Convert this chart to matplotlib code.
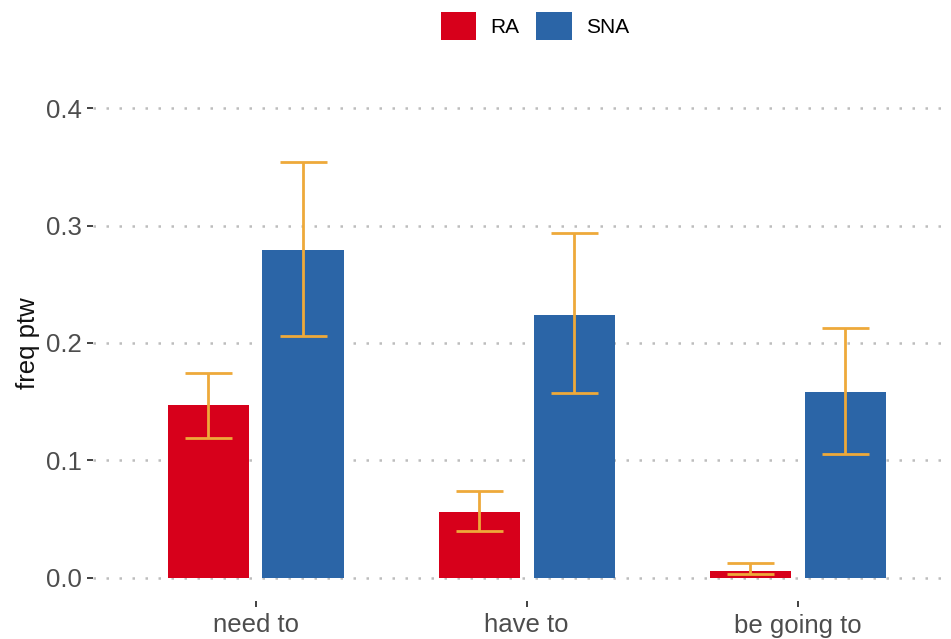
import matplotlib
matplotlib.use("Agg")
import matplotlib.pyplot as plt
import numpy as np
from matplotlib.patches import Patch

plt.rcParams['font.family'] = ['Liberation Sans', 'DejaVu Sans']

categories = ["need to", "have to", "be going to"]
groups = ["RA", "SNA"]
ra_freq = [0.147, 0.056, 0.006]
ra_low = [0.119, 0.040, 0.003]
ra_high = [0.174, 0.074, 0.012]
sna_freq = [0.279, 0.224, 0.158]
sna_low = [0.206, 0.157, 0.105]
sna_high = [0.354, 0.294, 0.213]
y_ticks = [0.0, 0.1, 0.2, 0.3, 0.4]

colors = {"RA": "#D7001B", "SNA": "#2B65A7"}
err_color = "#EEA93A"

fig = plt.figure(figsize=(9.51, 6.39), dpi=100)
ax = fig.add_axes([93 / 951, 1 - 601 / 639, (951 - 93) / 951, (601 - 85) / 639])

x = np.arange(1, len(categories) + 1)
dodge = 0.175
bar_w = 0.30
cap_half = 0.087

series = [
    ("RA", ra_freq, ra_low, ra_high, -dodge),
    ("SNA", sna_freq, sna_low, sna_high, dodge),
]

# dotted horizontal grid
for t in y_ticks:
    ax.axhline(t, color="#BDBDBD", linewidth=1.8, linestyle=(0, (1, 4.2)), zorder=0)

for name, vals, lo, hi, off in series:
    xs = x + off
    ax.bar(xs, vals, width=bar_w, color=colors[name], zorder=2)
    ax.vlines(xs, lo, hi, color=err_color, linewidth=2, zorder=3)
    ax.hlines(lo, xs - cap_half, xs + cap_half, color=err_color, linewidth=2, zorder=3)
    ax.hlines(hi, xs - cap_half, xs + cap_half, color=err_color, linewidth=2, zorder=3)

ax.set_xlim(0.4, 3.565)
ax.set_ylim(-0.02, 0.42)
ax.set_xticks(x)
ax.set_xticklabels(categories)
ax.set_yticks(y_ticks)
ax.set_yticklabels([f"{t:.1f}" for t in y_ticks])

for s in ax.spines.values():
    s.set_visible(False)
ax.tick_params(axis="both", colors="#333333", labelcolor="#4D4D4D",
               labelsize=18.5, length=4, width=1.3, pad=4)
ax.tick_params(axis="x", pad=5)
ax.set_ylabel("freq ptw", fontsize=18.5, color="#111111", labelpad=4)

handles = [Patch(facecolor=colors[g], label=g) for g in groups]
fig.legend(handles=handles, loc="center", bbox_to_anchor=(535 / 951, 1 - 26 / 639),
           ncol=2, frameon=False, fontsize=15, handlelength=1.7, handleheight=1.7,
           handletextpad=0.7, columnspacing=0.8)

fig.savefig("out.png", dpi=100, facecolor="white")
